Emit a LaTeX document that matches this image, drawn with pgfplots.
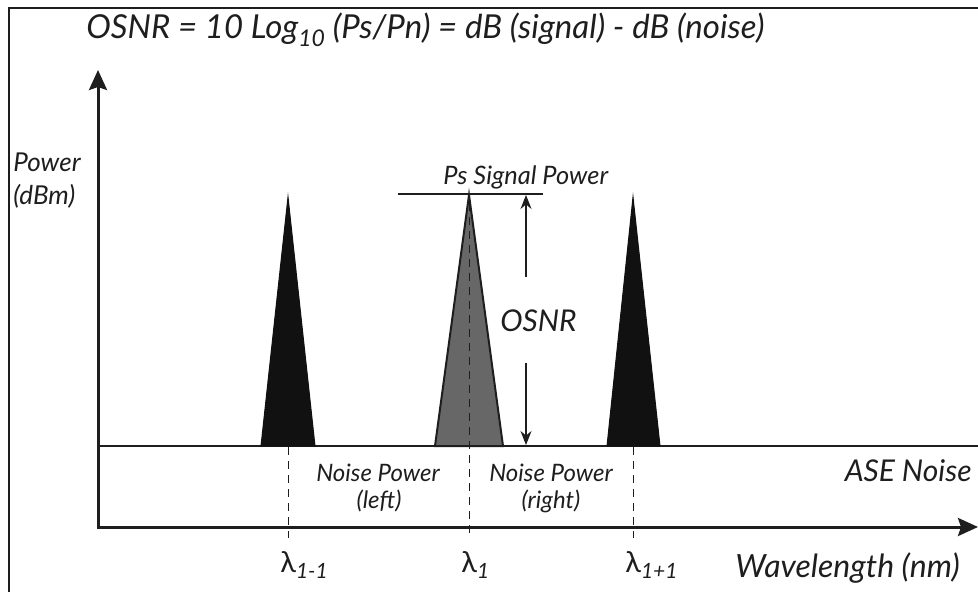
\documentclass[border=0pt]{standalone}
\usepackage{pgfplots}
\pgfplotsset{compat=1.18}
\usepackage{fontspec}
\setmainfont{Lato}
\usetikzlibrary{arrows.meta}
\definecolor{ink}{HTML}{1E1E1E}
\definecolor{peak}{HTML}{111111}
\definecolor{midpeak}{HTML}{676767}
\newcommand{\fs}[1]{\fontsize{#1}{#1}\selectfont}
\newcommand{\lo}[2]{\raisebox{-0.45ex}{\fs{#1}#2}}
\begin{document}
\begin{tikzpicture}[font=\itshape, text=ink]
\begin{axis}[
    hide axis,
    scale only axis,
    width=489pt, height=296pt,
    xmin=0, xmax=978, ymin=0, ymax=592,
    y dir=reverse,
    clip=false,
]
% frame (left and top edges only are in view)
\addplot[ink, line width=1pt] coordinates {(9,620) (9,8.5) (1000,8.5)};

% axes
\addplot[ink, line width=1.5pt, {Stealth[length=10pt,width=9pt,inset=1.5pt]}-{Stealth[length=10pt,width=9pt,inset=1.5pt]}]
    coordinates {(98,70) (98,527) (978,527)};

% ASE noise floor
\addplot[ink, line width=1.3pt] coordinates {(98,446) (978,446)};

% channels
\addplot[fill=peak, draw=peak, line width=0.5pt] coordinates {(261,446) (288,197) (315,446)} -- cycle;
\addplot[fill=midpeak, draw=ink, line width=1pt] coordinates {(435,446) (469,195) (503,446)} -- cycle;
\addplot[fill=peak, draw=peak, line width=0.5pt] coordinates {(607,446) (633,197) (660,446)} -- cycle;

% wavelength markers
\addplot[ink, line width=0.5pt, dash pattern=on 4pt off 3pt] coordinates {(288,447) (288,538)};
\addplot[ink, line width=0.5pt, dash pattern=on 4pt off 3pt] coordinates {(469,203) (469,538)};
\addplot[ink, line width=0.5pt, dash pattern=on 4pt off 3pt] coordinates {(633,447) (633,538)};

% signal power level
\addplot[ink, line width=1.2pt] coordinates {(398,194) (543,194)};

% OSNR arrow
\addplot[ink, line width=0.6pt, -{Stealth[length=7pt,width=5.5pt]}] coordinates {(526,277) (526,195)};
\addplot[ink, line width=0.6pt, -{Stealth[length=7pt,width=5.5pt]}] coordinates {(526,363) (526,445)};

% text
\node[anchor=base west, font=\fs{16.5}\itshape, inner sep=0pt] at (axis cs:86,39)
    {OSNR = 10 Log\lo{11.5}{10} (Ps/Pn) = dB (signal) - dB (noise)};
\node[anchor=base west, font=\fs{13}\itshape, inner sep=0pt] at (axis cs:13,172) {Power};
\node[anchor=base west, font=\fs{13}\itshape, inner sep=0pt] at (axis cs:13,205) {(dBm)};
\node[anchor=base west, font=\fs{12.7}\itshape, inner sep=0pt] at (axis cs:443,185) {Ps Signal Power};
\node[anchor=base west, font=\fs{15}\itshape, inner sep=0pt] at (axis cs:500,332) {OSNR};
\node[anchor=base, font=\fs{12}\itshape] at (axis cs:378,481) {Noise Power};
\node[anchor=base, font=\fs{12}\itshape] at (axis cs:379,508) {(left)};
\node[anchor=base, font=\fs{12}\itshape] at (axis cs:551,481) {Noise Power};
\node[anchor=base, font=\fs{12}\itshape] at (axis cs:551,508) {(right)};
\node[anchor=base east, font=\fs{15}\itshape, inner sep=0pt] at (axis cs:972,481) {ASE Noise};
\node[anchor=base west, font=\fs{14.5}\upshape, inner sep=0pt] at (axis cs:280,572) {λ\lo{10.5}{\itshape 1-1}};
\node[anchor=base west, font=\fs{14.5}\upshape, inner sep=0pt] at (axis cs:461,572) {λ\lo{10.5}{\itshape 1}};
\node[anchor=base west, font=\fs{14.5}\upshape, inner sep=0pt] at (axis cs:625,572) {λ\lo{10.5}{\itshape 1+1}};
\node[anchor=base west, font=\fs{16}\itshape, inner sep=0pt] at (axis cs:735,577) {Wavelength (nm)};
\end{axis}
\pgfresetboundingbox
\path (current axis.south west) rectangle (current axis.north east);
\end{tikzpicture}
\end{document}
